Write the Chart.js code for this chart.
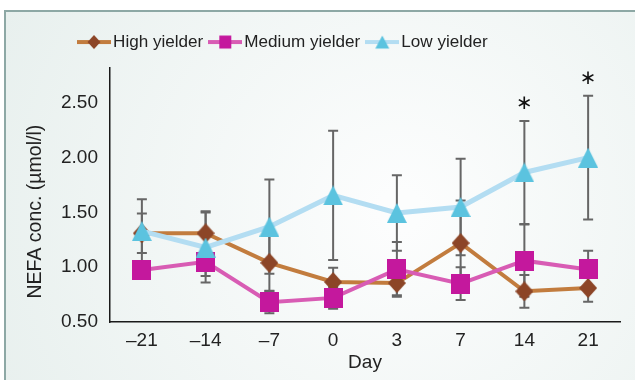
<!DOCTYPE html>
<html>
<head>
<meta charset="utf-8">
<script src="https://cdn.jsdelivr.net/npm/chart.js@4.4.1/dist/chart.umd.min.js"></script>
<style>
  html, body { margin: 0; padding: 0; background: #fff; }
</style>
</head>
<body>
<canvas id="chart" width="635" height="380"></canvas>
<script>
// data (means and error bar half-widths)
const days = ['–21', '–14', '–7', '0', '3', '7', '14', '21'];
const highYielder = [1.31, 1.31, 1.04, 0.865, 0.855, 1.22, 0.78, 0.81];
const highErr = [0.18, 0.20, 0.255, 0.13, 0.11, 0.39, 0.15, 0.125];
const mediumYielder = [0.975, 1.05, 0.68, 0.72, 0.98, 0.85, 1.06, 0.98];
const mediumErr = [0.08, 0.13, 0.10, 0.10, 0.25, 0.15, 0.33, 0.17];
const lowYielder = [1.33, 1.18, 1.37, 1.655, 1.495, 1.55, 1.865, 2.0];
const lowErr = [0.29, 0.32, 0.43, 0.59, 0.345, 0.44, 0.47, 0.565];
const lowSignif = ['', '', '', '', '', '', '*', '*'];
const yTicks = [0.5, 1.0, 1.5, 2.0, 2.5];

Chart.defaults.font.family = '"Liberation Sans", Arial, sans-serif';
Chart.defaults.color = '#222';

function shapePath(ctx, shape, x0, y0, w, h) {
  ctx.beginPath();
  if (shape === 'diamond') {
    ctx.moveTo(x0 + w / 2, y0);
    ctx.lineTo(x0 + w, y0 + h / 2);
    ctx.lineTo(x0 + w / 2, y0 + h);
    ctx.lineTo(x0, y0 + h / 2);
  } else if (shape === 'triangle') {
    ctx.moveTo(x0 + w / 2, y0);
    ctx.lineTo(x0 + w, y0 + h);
    ctx.lineTo(x0, y0 + h);
  } else {
    ctx.rect(x0, y0, w, h);
  }
  ctx.closePath();
}

function makeMarker(shape, fill, w, h) {
  const c = document.createElement('canvas');
  c.width = w; c.height = h;
  const ctx = c.getContext('2d');
  shapePath(ctx, shape, 0, 0, w, h);
  ctx.fillStyle = fill;
  ctx.fill();
  return c;
}

function makeLegendIcon(shape, fill, lineColor, w, h) {
  const c = document.createElement('canvas');
  c.width = 34; c.height = 16;
  const ctx = c.getContext('2d');
  ctx.strokeStyle = lineColor;
  ctx.lineWidth = 4;
  ctx.beginPath(); ctx.moveTo(0, 8); ctx.lineTo(34, 8); ctx.stroke();
  shapePath(ctx, shape, 17 - w / 2, 8 - h / 2, w, h);
  ctx.fillStyle = fill;
  ctx.fill();
  return c;
}

const legendIcons = [
  makeLegendIcon('diamond', '#8C4527', '#C27C3E', 13, 14),
  makeLegendIcon('square', '#C4189D', '#D85CB4', 12, 13),
  makeLegendIcon('triangle', '#5BC3DF', '#B3DDF2', 14, 13)
];

const backdrop = {
  id: 'backdrop',
  beforeDraw(chart) {
    const {ctx, width, height} = chart;
    ctx.save();
    ctx.fillStyle = '#fff';
    ctx.fillRect(0, 0, width, height);
    const g = ctx.createRadialGradient(400, 210, 20, 400, 210, 440);
    g.addColorStop(0, '#FCFDFD');
    g.addColorStop(1, '#E8F0EE');
    ctx.fillStyle = g;
    ctx.fillRect(5, 11, width, height);
    ctx.strokeStyle = '#8DA8A5';
    ctx.lineWidth = 2;
    ctx.beginPath();
    ctx.moveTo(5, height); ctx.lineTo(5, 11); ctx.lineTo(width, 11);
    ctx.stroke();
    ctx.restore();
  }
};

// legend is placed a bit left of centre and slightly higher in the original
const legendShift = {
  id: 'legendShift',
  afterLayout(chart) {
    const lg = chart.legend;
    const pad = lg.options.labels.padding;
    const startX = (lg.left + pad + lg.right - lg.lineWidths[0]) / 2;
    const dx = 83.5 - startX;
    lg.left += dx; lg.right += dx;
    lg.top -= 7.5; lg.bottom -= 7.5;
  }
};

const errorBars = {
  id: 'errorBars',
  beforeDatasetsDraw(chart) {
    const {ctx, scales: {x, y}} = chart;
    ctx.save();
    ctx.strokeStyle = '#666';
    ctx.lineWidth = 2;
    chart.data.datasets.forEach(ds => {
      ds.data.forEach((v, i) => {
        const px = x.getPixelForValue(i);
        const top = y.getPixelForValue(v + ds.errors[i]);
        const bot = y.getPixelForValue(v - ds.errors[i]);
        ctx.beginPath();
        ctx.moveTo(px, top); ctx.lineTo(px, bot);
        ctx.moveTo(px - 5, top); ctx.lineTo(px + 5, top);
        ctx.moveTo(px - 5, bot); ctx.lineTo(px + 5, bot);
        ctx.stroke();
      });
    });
    ctx.restore();
  },
  afterDatasetsDraw(chart) {
    const {ctx, scales: {x, y}} = chart;
    ctx.save();
    ctx.fillStyle = '#111';
    ctx.font = '20px "DejaVu Sans"';
    ctx.textAlign = 'center';
    ctx.textBaseline = 'middle';
    lowSignif.forEach((s, i) => {
      if (!s) return;
      const top = y.getPixelForValue(lowYielder[i] + lowErr[i]);
      ctx.fillText('\u2217', x.getPixelForValue(i), top - 17);
    });
    ctx.restore();
  }
};

const ctx = document.getElementById('chart').getContext('2d');
const chart = new Chart(ctx, {
  type: 'line',
  data: {
    labels: days,
    datasets: [{
      label: 'High yielder',
      data: highYielder,
      errors: highErr,
      borderColor: '#C27C3E',
      borderWidth: 4,
      pointStyle: makeMarker('diamond', '#8C4527', 18, 20),
      pointRadius: 10,
      order: 3
    }, {
      label: 'Medium yielder',
      data: mediumYielder,
      errors: mediumErr,
      borderColor: '#D85CB4',
      borderWidth: 4,
      pointStyle: makeMarker('square', '#C4189D', 19, 20),
      pointRadius: 10,
      order: 2
    }, {
      label: 'Low yielder',
      data: lowYielder,
      errors: lowErr,
      borderColor: '#B3DDF2',
      borderWidth: 5,
      pointStyle: makeMarker('triangle', '#5BC3DF', 20, 20),
      pointRadius: 10,
      order: 1
    }]
  },
  options: {
    responsive: false,
    animation: false,
    devicePixelRatio: 1,
    layout: { padding: { left: 10, right: 13, top: 29.5, bottom: 0 } },
    plugins: {
      tooltip: { enabled: false },
      legend: {
        position: 'top',
        labels: {
          usePointStyle: true,
          pointStyleWidth: 21,
          padding: 11.5,
          font: { size: 17.1 },
          generateLabels(chart) {
            const items = Chart.defaults.plugins.legend.labels.generateLabels(chart);
            items.forEach(it => { it.pointStyle = legendIcons[it.datasetIndex]; });
            return items;
          },
          sort: (a, b) => a.datasetIndex - b.datasetIndex
        }
      }
    },
    scales: {
      x: {
        offset: true,
        grid: { display: false, drawTicks: false },
        border: { display: true, color: '#1a1a1a', width: 1.5 },
        ticks: { font: { size: 19 }, padding: 7 },
        title: { display: true, text: 'Day', font: { size: 19 }, padding: { top: 0, bottom: 6 } },
        afterFit(scale) { scale.height = 58; }
      },
      y: {
        min: 0.5,
        max: 2.8175,
        grid: { display: false, drawTicks: false },
        border: { display: true, color: '#1a1a1a', width: 1.5 },
        afterBuildTicks(scale) { scale.ticks = yTicks.map(v => ({ value: v })); },
        ticks: { font: { size: 19 }, padding: 12, callback: v => v.toFixed(2) },
        title: {
          display: true,
          text: 'NEFA conc. (µmol/l)\u2003\u2002\u2009',
          font: { size: 19.5 },
          padding: { top: 14, bottom: 0 }
        },
        afterFit(scale) { scale.width = 100; }
      }
    }
  },
  plugins: [backdrop, legendShift, errorBars]
});
</script>
</body>
</html>
